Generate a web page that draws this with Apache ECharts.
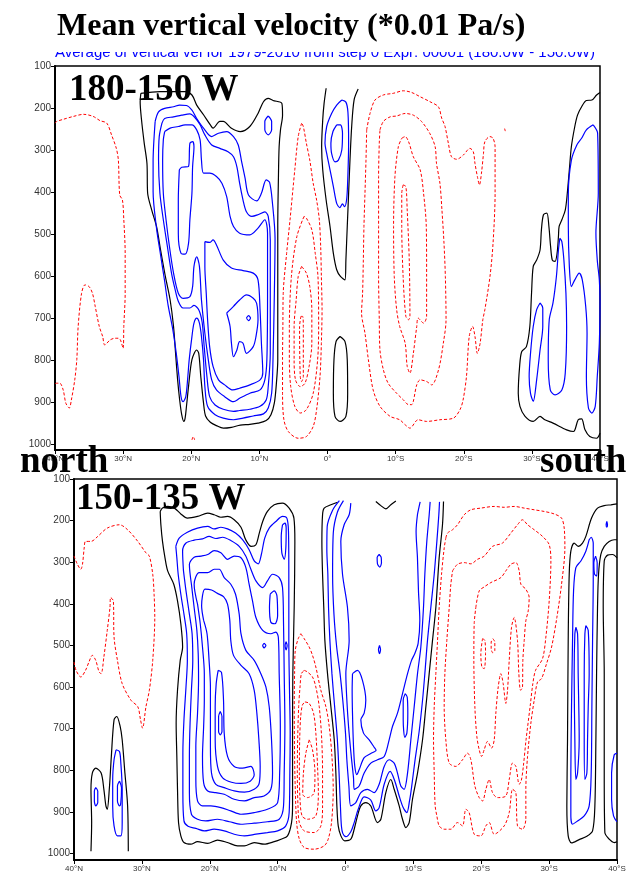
<!DOCTYPE html>
<html>
<head>
<meta charset="utf-8">
<script src="https://cdn.jsdelivr.net/npm/echarts@6/dist/echarts.min.js"></script>
<style>
html,body{margin:0;padding:0;background:#fff;}
#chart{width:635px;height:873px;}
</style>
</head>
<body>
<div id="chart"></div>
<script>
// ---------- axis ticks ----------
const latTicks = [40, 30, 20, 10, 0, -10, -20, -30, -40];
const presTicks = [100, 200, 300, 400, 500, 600, 700, 800, 900, 1000];

// ---------- text ----------
const titleText = 'Mean vertical velocity (*0.01 Pa/s)';
const subtitleText = 'Average of vertical vel for 1979-2010 from step 0 Expr: 00001 (180.0W - 150.0W)';
const panel1Label = '180-150 W';
const panel2Label = '150-135 W';

// ---------- PANEL 1 (180-150 W) contours: [latitude (N +, S -), pressure hPa] ----------
const p1_red_n40 = [[40,236],[39.75,232],[38.8,227],[37.3,220],[35.8,215],[34.4,220],[33.4,230],[32.4,236],[31.7,264],[31.0,296],[30.7,324],[30.5,407],[30.1,419],[29.9,466],[29.7,546],[29.7,641],[29.9,720],[30.0,772],[30.4,752],[30.7,748],[31.2,748],[31.9,752],[32.7,764],[33.0,744],[33.5,720],[34.1,672],[34.5,641],[35.0,625],[35.6,621],[36.1,641],[36.6,720],[36.8,799],[37.1,847],[37.6,895],[37.9,914],[38.4,903],[38.8,871],[39.3,855],[39.8,855],[40,857]];
const p1_red_tick = [[19.9,990],[19.7,982],[19.5,990]];
const p1_black_20n = [[27.4,165],[24.6,161],[20.9,161],[19.9,169],[19.2,193],[18.2,216],[17.2,240],[16.8,248],[15.8,232],[15.3,232],[14.1,248],[12.8,256],[11.4,244],[10.2,213],[9.4,185],[8.7,177],[8.0,182],[6.7,189],[6.6,217],[6.9,252],[7.1,292],[7.2,363],[7.3,482],[7.3,641],[7.3,799],[7.5,855],[7.8,902],[8.3,930],[9.0,944],[10.2,950],[11.4,953],[12.8,955],[14.1,960],[15.3,962],[16.3,956],[17.2,948],[17.9,933],[18.2,902],[18.6,839],[18.9,784],[19.2,776],[19.9,799],[20.4,863],[20.7,910],[20.9,938],[21.1,946],[21.4,930],[21.7,895],[22.0,847],[22.3,784],[22.6,720],[23.1,657],[23.8,601],[24.5,538],[25.1,482],[25.8,443],[26.4,403],[26.5,332],[26.9,284],[27.3,228],[27.5,185]];
const p1_blue_20n_1 = [[25.3,232],[25.6,328],[25.6,399],[25.1,486],[24.5,550],[23.9,613],[23.4,669],[22.7,728],[22.2,784],[21.8,839],[21.5,887],[21.2,899],[20.8,887],[20.5,839],[20.3,799],[19.9,744],[19.6,712],[19.2,700],[18.8,712],[18.5,744],[18.2,799],[18.0,863],[17.6,910],[16.5,930],[15.3,938],[13.8,942],[12.4,938],[10.9,933],[9.4,928],[8.7,914],[8.2,879],[8.0,799],[7.8,641],[7.7,510],[8.1,423],[8.5,377],[9.0,371],[9.7,403],[10.4,421],[11.6,407],[12.1,367],[12.6,328],[13.1,288],[13.8,268],[14.8,256],[16.0,260],[17.0,268],[18.2,248],[19.2,225],[19.9,205],[20.7,194],[21.7,193],[22.6,197],[23.9,201],[24.8,209]];
const p1_blue_20n_2 = [[24.3,236],[23.9,225],[22.6,221],[21.4,217],[20.2,214],[19.5,222],[18.7,240],[18.0,264],[17.0,288],[15.8,296],[14.6,304],[13.8,316],[13.3,340],[12.9,379],[12.4,419],[11.9,447],[11.1,458],[10.2,454],[9.2,447],[8.7,458],[8.4,514],[8.4,641],[8.4,784],[8.7,863],[9.0,895],[9.9,910],[11.4,917],[12.9,920],[13.8,922],[15.3,917],[16.5,907],[17.3,887],[17.7,839],[18.1,768],[18.4,710],[18.9,680],[19.6,670],[20.2,676],[21.2,676],[21.9,660],[22.4,630],[22.9,593],[23.5,530],[24.1,466],[24.6,403],[24.8,324],[24.7,268]];
const p1_blue_20n_3 = [[23.9,256],[23.1,248],[21.9,244],[20.9,240],[19.9,240],[19.2,252],[18.7,276],[18.5,324],[18.2,355],[17.3,355],[16.3,363],[15.5,379],[14.8,411],[14.3,458],[13.8,482],[12.9,498],[11.4,502],[10.2,486],[9.2,466],[8.8,498],[8.8,641],[8.9,799],[9.2,847],[9.9,871],[11.4,879],[12.9,891],[13.8,899],[15.1,887],[16.3,871],[17.0,847],[17.5,799],[18.0,736],[18.5,657],[18.8,577],[19.2,554],[19.6,577],[19.8,625],[20.2,649],[21.2,653],[21.9,641],[22.6,593],[23.2,530],[23.7,466],[24.1,403],[24.2,324],[24.1,276]];
const p1_blue_20n_4 = [[18.0,518],[17.3,520],[16.8,514],[16.3,526],[15.3,562],[14.1,581],[12.4,587],[10.9,593],[10.2,609],[9.9,680],[9.7,760],[9.5,831],[9.9,847],[11.4,859],[12.9,867],[13.9,871],[15.1,859],[16.0,847],[16.8,815],[17.3,768],[17.6,704],[17.8,641],[18.0,577]];
const p1_blue_20n_5 = [[14.8,688],[13.8,672],[12.9,657],[11.9,645],[10.9,653],[10.4,665],[10.2,704],[10.5,744],[10.9,768],[11.9,784],[12.4,760],[12.9,756],[13.3,776],[13.8,792],[14.1,760],[14.3,720]];
const p1_blue_20n_dot = [[11.9,700],[11.6,706],[11.3,700],[11.6,694]];
const p1_blue_20n_upper = [[21.75,347],[21.4,341],[20.4,339],[20.2,284],[19.8,280],[19.6,292],[19.8,339],[19.9,403],[20.2,466],[20.4,522],[20.9,548],[21.5,546],[21.9,498],[21.9,419]];
const p1_blue_9n_small = [[8.7,219],[8.2,232],[8.2,252],[8.7,264],[9.2,252],[9.2,232]];
const p1_red_5n_1 = [[3.8,236],[4.3,268],[4.8,347],[5.5,466],[6.0,546],[6.5,641],[6.55,720],[6.6,799],[6.6,879],[6.4,942],[5.75,970],[4.3,986],[3.1,982],[2.1,958],[1.6,918],[1.1,839],[0.9,760],[0.8,680],[0.9,601],[1.0,530],[1.2,466],[1.6,419],[2.1,379],[2.6,324],[3.1,284],[3.55,244]];
const p1_red_5n_2 = [[3.45,458],[4.5,506],[5.3,601],[5.6,720],[5.6,799],[5.4,863],[4.8,910],[4.0,926],[3.1,918],[2.1,879],[1.45,799],[1.3,720],[1.4,601],[1.8,546],[2.3,490],[3.1,462]];
const p1_red_5n_3 = [[3.8,577],[4.3,601],[4.6,657],[4.9,720],[4.9,799],[4.7,847],[4.0,863],[3.3,855],[2.7,815],[2.3,760],[2.3,680],[2.6,625],[3.1,593]];
const p1_red_5n_4 = [[3.9,696],[3.65,696],[3.55,720],[3.55,839],[3.8,851],[4.0,839],[4.1,720]];
const p1_black_eq_top = [[0.2,153],[0.5,189],[0.7,228],[0.86,292],[0.7,347],[0.2,419],[-0.37,482],[-0.86,546],[-1.35,585],[-1.9,601],[-2.57,609],[-2.7,562],[-2.9,482],[-3.1,403],[-3.3,324],[-3.55,244],[-3.9,181],[-4.5,155]];
const p1_blue_eq_1 = [[-2.1,181],[-2.7,186],[-3.0,210],[-3.1,284],[-2.95,380],[-2.8,419],[-2.5,435],[-2.2,428],[-1.8,437],[-1.35,427],[-0.86,387],[-0.37,347],[0.12,308],[0.37,284],[0.12,244],[-0.6,213],[-1.35,193]];
const p1_blue_eq_2 = [[-1.35,240],[-1.9,240],[-2.2,260],[-2.1,300],[-1.6,324],[-1.1,328],[-0.6,308],[-0.5,284],[-0.8,256]];
const p1_black_eq_low = [[-1.84,744],[-2.57,756],[-2.9,799],[-2.96,879],[-2.7,934],[-1.84,946],[-1.1,934],[-0.86,879],[-0.95,799],[-1.25,756]];
const p1_red_10s_1 = [[-5.75,252],[-6.24,213],[-6.97,181],[-8.19,169],[-9.66,165],[-11.13,159],[-12.35,163],[-13.58,173],[-15.04,185],[-16.27,197],[-16.76,224],[-17.25,244],[-17.74,284],[-18.2,316],[-18.96,322],[-19.94,312],[-20.91,296],[-21.4,304],[-21.65,332],[-22.0,363],[-22.3,383],[-22.6,355],[-22.9,308],[-23.1,280],[-23.85,268],[-24.3,272],[-24.6,292],[-24.6,403],[-24.3,522],[-23.85,601],[-23.1,680],[-22.8,704],[-22.4,760],[-22.0,784],[-21.65,744],[-21.3,720],[-20.8,744],[-20.4,839],[-19.9,895],[-19.45,918],[-18.5,938],[-16.5,942],[-14.55,946],[-13.3,942],[-12.1,962],[-11.4,954],[-10.6,942],[-9.2,934],[-7.7,910],[-6.7,871],[-6.0,799],[-5.5,736],[-5.0,688],[-5.15,641],[-5.26,562],[-5.35,482],[-5.5,403],[-5.65,324]];
const p1_red_10s_2 = [[-7.7,252],[-8.2,232],[-9.2,221],[-10.15,219],[-11.4,213],[-12.6,217],[-13.8,232],[-15.0,260],[-15.8,292],[-16.0,332],[-16.5,379],[-16.8,443],[-17.1,522],[-17.3,601],[-17.4,704],[-17.0,760],[-16.3,823],[-15.3,859],[-14.55,851],[-13.6,847],[-13.1,859],[-12.35,906],[-11.9,906],[-11.1,894],[-10.15,879],[-8.9,855],[-8.2,823],[-7.7,776],[-7.6,704],[-7.5,601],[-7.5,482],[-7.5,363],[-7.6,284]];
const p1_red_10s_3 = [[-10.9,272],[-11.4,268],[-11.9,280],[-12.6,316],[-13.6,347],[-14.1,403],[-14.5,482],[-14.55,601],[-14.55,696],[-14.1,712],[-13.3,700],[-13.1,720],[-12.6,784],[-12.1,831],[-11.7,815],[-11.4,760],[-10.6,720],[-10.15,680],[-9.8,601],[-9.7,482],[-9.9,363],[-10.4,292]];
const p1_red_10s_4 = [[-11.1,383],[-11.5,387],[-11.7,443],[-12.0,562],[-12.1,696],[-11.9,704],[-11.5,696],[-11.1,601],[-10.9,482],[-10.9,403]];
const p1_red_26s_dot = [[-26.0,249],[-26.1,255]];
const p1_black_35s = [[-40,163],[-39.5,169],[-38.8,181],[-38.0,182],[-37.3,197],[-36.7,217],[-36.3,244],[-35.8,292],[-35.5,347],[-35.2,403],[-34.9,443],[-34.4,466],[-34.0,482],[-33.9,506],[-33.7,546],[-33.4,565],[-33.0,562],[-32.75,530],[-32.5,482],[-32.2,450],[-31.7,454],[-31.4,490],[-31.2,538],[-30.7,562],[-30.2,577],[-29.95,641],[-29.7,720],[-29.2,768],[-28.5,780],[-28.2,815],[-28.0,879],[-28.25,910],[-29.0,934],[-30.2,946],[-31.2,934],[-31.9,942],[-33.1,950],[-35.1,966],[-36.1,970],[-36.8,942],[-37.3,940],[-37.8,966],[-38.5,982],[-39.5,986],[-40,974]];
const p1_blue_35s_1 = [[-39.0,240],[-39.65,260],[-39.75,403],[-39.4,498],[-39.6,562],[-39.9,609],[-40,657],[-39.9,760],[-39.6,839],[-39.3,910],[-38.8,926],[-38.3,914],[-38.0,839],[-38.1,736],[-37.9,672],[-37.4,609],[-36.95,593],[-36.3,609],[-35.8,625],[-35.5,577],[-35.35,482],[-35.35,403],[-35.8,324],[-36.6,288],[-37.3,272],[-38.0,252]];
const p1_blue_35s_2 = [[-34.1,510],[-34.4,518],[-34.7,562],[-35.0,641],[-35.1,720],[-34.9,831],[-34.4,871],[-33.4,883],[-32.7,871],[-32.4,799],[-32.55,704],[-33.1,664],[-33.6,601],[-33.9,538]];
const p1_blue_31s = [[-31.2,664],[-31.6,676],[-31.6,720],[-31.2,776],[-30.7,847],[-30.2,898],[-29.8,879],[-29.6,839],[-29.8,784],[-30.2,720],[-30.7,680]];

// ---------- PANEL 2 (150-135 W) contours ----------
const p2_red_n40 = [[40,285],[39.5,305],[39.0,317],[38.75,305],[38.5,266],[38.3,250],[37.5,250],[36.5,238],[35.1,218],[33.3,210],[32.1,222],[30.6,250],[29.4,277.5],[28.9,285.5],[28.4,329],[28.2,377],[28.1,433],[28.4,536],[28.9,608],[29.4,647.5],[29.9,699],[30.2,679],[30.6,647.5],[31.6,632],[32.9,592],[33.6,536],[34.1,480],[34.2,393],[34.6,385],[34.7,409],[35.1,464],[35.6,528],[36.0,568],[36.3,564],[36.8,536],[37.3,524],[37.8,540],[38.3,560],[39.0,576],[39.7,560],[40,540]];
const p2_black_35n = [[37.5,995],[37.4,926],[37.5,846],[37.3,807],[36.8,795],[36.0,807],[35.6,846],[35.3,886],[35.1,894],[34.8,846],[34.5,767],[34.1,679],[33.7,671],[33.2,695],[32.9,727],[32.5,807],[32.1,886],[32.0,995]];
const p2_blue_37n = [[36.8,842],[36.5,850],[36.5,878],[36.8,886],[37.0,874],[37.0,850]];
const p2_blue_33n_1 = [[33.8,751],[33.3,755],[33.1,783],[32.9,846],[32.9,926],[33.1,958],[33.6,958],[34.1,934],[34.3,886],[34.3,822.5],[34.1,775]];
const p2_blue_33n_2 = [[33.3,826],[33.0,842],[33.1,878],[33.3,886],[33.6,874],[33.6,838]];
const p2_black_18n = [[27.3,178],[26.96,170],[26.2,166],[25.2,170],[24.26,184],[23.3,194],[21.8,190],[20.3,182],[19.35,186],[18.36,192],[17.38,190],[16.4,198],[15.4,216],[14.7,246],[13.9,262],[13.2,258],[12.7,230],[12.2,202],[11.5,178],[10.5,162],[9.3,158],[8.3,170],[7.6,194],[7.46,250],[7.56,409],[7.76,568],[7.8,727],[7.8,886],[7.95,926],[8.54,958],[9.5,966],[10.5,972],[12.0,978],[13.45,974],[14.9,982],[15.9,982],[17.4,974],[18.86,968],[20.3,976],[21.8,972],[22.8,978],[23.8,974],[24.26,958],[24.6,926],[24.75,846],[24.85,767],[24.95,687],[24.75,608],[24.35,536],[24.0,504],[24.26,448],[24.75,393],[25.3,353],[26.2,321],[26.6,289],[26.96,250],[27.2,210]];
const p2_blue_18n_1 = [[25.0,262],[24.5,242],[23.3,228],[21.8,218],[20.3,214],[19.35,220],[18.36,216],[17.38,220],[16.2,230],[15.17,246],[14.2,270],[13.45,297],[12.86,304],[12.4,281.5],[11.9,242],[11.24,218],[10.26,202],[9.28,190],[8.64,194],[8.4,226],[8.35,329],[8.35,488],[8.25,608],[8.15,711],[8.2,807],[8.3,902],[8.8,934],[10.0,946],[11.5,950],[13.2,954],[14.9,958],[16.4,954],[17.87,946],[19.35,942],[20.8,946],[22.05,940],[23.2,935],[23.8,922],[23.96,854],[23.96,759],[23.8,679],[23.5,600],[23.3,536],[23.4,472],[23.8,425],[24.26,377],[24.65,329],[24.85,289]];
const p2_blue_18n_2 = [[23.87,321],[24.0,273.5],[23.5,254],[22.3,247],[21.07,244],[20.1,238],[19.1,243],[18.1,240],[16.9,248],[15.66,262],[14.68,285.5],[13.94,317],[13.2,345],[12.2,361],[11.5,345],[10.75,329],[9.77,337],[9.28,361],[9.13,448],[9.03,568],[8.93,695],[9.03,807],[9.13,886],[9.77,918],[11.5,924],[13.45,927.5],[15.4,930],[17.1,924],[18.86,918],[20.6,922],[21.8,918],[22.7,906],[23.0,854],[23.0,767],[22.9,687],[22.7,608],[22.5,536],[22.6,472],[23.0,425],[23.5,369]];
const p2_blue_18n_3 = [[22.7,353],[23.0,305],[22.3,288],[21.3,285.5],[20.3,281.5],[19.35,272],[18.36,277.5],[17.38,293],[16.4,285.5],[15.4,289.4],[14.68,313],[14.2,353],[13.7,393],[13.2,433],[12.2,464],[11.0,472],[10.26,468],[9.9,480],[9.77,568],[9.6,695],[9.7,807],[10.0,878],[11.5,894],[13.45,902],[15.4,906],[16.9,898],[18.36,890],[19.84,886],[21.07,886],[21.8,874],[22.05,822.5],[22.05,743],[21.8,663],[21.65,584],[21.7,520],[21.9,464],[22.3,409]];
const p2_blue_18n_4 = [[21.8,401],[22.3,353],[21.56,325],[20.3,325],[19.35,317],[18.6,317],[17.87,337],[16.9,353],[16.2,377],[15.66,425],[15.4,472],[14.68,512],[13.45,536],[12.47,568],[11.73,600],[11.24,647.5],[10.9,727],[10.75,807],[11.0,846],[12.0,862],[13.45,866],[14.9,874],[16.4,870],[17.87,858],[19.1,854],[20.3,850],[20.9,830.5],[21.07,767],[20.9,695],[20.8,632],[20.8,568],[21.07,504],[21.4,448]];
const p2_blue_18n_5 = [[20.9,440],[21.2,405],[20.7,365],[19.74,367],[18.86,375],[17.97,383],[17.38,401],[17.04,441],[16.9,488],[16.5,524],[15.4,548],[14.2,568],[13.45,608],[13.06,663],[12.76,727],[12.57,791],[12.7,830.5],[13.45,846],[14.9,853],[16.4,850],[17.87,842],[19.1,834],[19.74,807],[19.9,743],[19.9,663],[19.9,600],[20.1,536],[20.4,472]];
const p2_blue_18n_6 = [[18.76,560],[18.27,565],[17.97,632],[17.87,711],[17.38,767],[16.4,791],[15.17,795],[13.94,791],[13.45,811],[14.04,826.5],[15.4,832],[16.8,829],[18.1,818.5],[18.86,791],[19.2,727],[19.2,647.5],[19.05,592]];
const p2_blue_18n_core = [[18.45,659],[18.2,671],[18.2,707],[18.45,715],[18.7,707],[18.7,671]];
const p2_blue_9n_a = [[9.28,210],[8.93,206],[8.74,218],[8.79,266],[9.03,293],[9.38,277.5],[9.47,238]];
const p2_blue_11n_b = [[11.1,377],[10.5,369],[10.1,381],[10.0,429],[10.4,448],[11.0,444.5],[11.2,409]];
const p2_blue_12n_dot = [[12.0,495],[11.73,500],[12.0,506],[12.2,500]];
const p2_blue_9n_dot = [[8.75,491],[8.6,500],[8.75,511],[8.9,500]];
const p2_red_5n_1 = [[6.58,472],[6.08,484],[5.35,504],[4.86,524],[4.37,552],[3.63,608],[2.89,647.5],[2.4,695],[2.0,767],[1.81,846],[2.06,926],[2.55,966],[3.14,982],[4.61,990],[6.08,986],[6.8,966],[7.2,926],[7.4,846],[7.5,767],[7.55,647.5],[7.5,568],[7.4,512],[6.97,484]];
const p2_red_5n_2 = [[6.08,560],[5.6,564],[4.86,576],[4.37,600],[3.87,647.5],[3.5,727],[3.38,807],[3.38,886],[3.63,934],[4.61,950],[6.08,946],[6.8,926],[7.0,886],[7.1,807],[7.05,727],[6.9,647.5],[6.7,600],[6.5,568]];
const p2_red_5n_3 = [[5.98,636],[5.35,639.5],[4.71,663],[4.37,711],[4.12,791],[4.0,854],[4.37,910],[5.6,918],[6.4,910],[6.7,870],[6.8,807],[6.75,727],[6.6,671],[6.35,643.5]];
const p2_red_5n_4 = [[5.35,727],[4.86,751],[4.5,807],[4.61,854],[5.6,866],[6.3,858],[6.2,807],[5.84,759]];
const p2_black_eq = [[1.17,156],[2.15,162],[3.14,170],[3.38,186],[3.48,250],[3.38,329],[3.2,409],[3.04,488],[2.65,568],[2.15,647.5],[1.66,727],[1.42,807],[1.27,886],[1.07,934],[0.68,958],[0.1,970],[-0.78,966],[-1.28,942],[-1.77,910],[-2.26,886],[-2.99,878],[-3.73,886],[-4.71,926],[-5.21,918],[-5.94,854],[-6.68,822.5],[-7.17,846],[-7.91,886],[-8.4,918],[-8.89,938],[-9.38,926],[-9.87,870],[-10.61,807],[-11.35,727],[-11.84,647.5],[-12.33,568],[-12.82,488],[-13.31,409],[-13.8,289.4],[-14.29,210],[-14.44,154]];
const p2_black_5s_top = [[-4.47,154],[-5.21,164],[-5.94,172],[-6.68,162],[-7.42,153]];
const p2_blue_eq_1 = [[0.9,152],[1.9,175],[2.7,215],[2.75,270],[2.6,329],[2.5,409],[2.3,488],[2.0,568],[1.6,647.5],[1.2,727],[0.95,807],[0.75,886],[0.6,935],[0.4,952],[-0.05,960],[-0.78,948],[-1.28,926],[-1.87,894],[-2.75,864],[-3.73,872],[-4.47,898],[-4.96,890],[-5.7,834],[-6.58,803],[-7.27,826.5],[-7.91,862],[-8.5,890],[-9.04,902],[-9.43,874],[-9.73,842],[-10.22,779],[-10.85,707],[-11.35,632],[-11.69,568],[-12.08,488],[-12.57,409],[-13.07,329],[-13.46,250],[-13.75,186],[-13.85,155]];
const p2_blue_eq_2 = [[0.3,152],[1.2,180],[1.8,230],[1.9,329],[1.7,425],[1.3,504],[0.8,568],[0.4,632],[0.0,711],[-0.2,775],[-0.5,838],[-0.78,886],[-1.52,878],[-2.26,854],[-3.24,846],[-4.22,854],[-4.96,834],[-5.7,791],[-6.43,775],[-7.17,783],[-7.66,807],[-8.15,838],[-8.64,846],[-9.14,807],[-9.63,727],[-10.12,647.5],[-10.61,568],[-11.1,504],[-11.49,409],[-11.69,329],[-11.98,250],[-12.33,186],[-12.47,155]];
const p2_blue_eq_3 = [[-0.78,158],[-0.54,186],[0.2,210],[0.69,250],[0.44,329],[-0.29,409],[-0.54,488],[-0.05,568],[-0.2,632],[-0.45,695],[-0.85,767],[-1.18,818.5],[-1.28,846],[-2.01,838],[-2.75,807],[-3.73,783],[-4.71,775],[-5.7,767],[-6.43,727],[-6.92,695],[-7.66,663],[-8.4,616],[-9.14,568],[-9.73,536],[-10.2,520],[-10.7,495],[-10.95,440],[-10.75,369],[-10.6,289],[-10.4,226],[-10.6,186],[-10.85,166],[-11.0,155]];
const p2_blue_eq_4 = [[-1.03,568],[-1.77,560],[-2.5,584],[-2.99,632],[-2.75,663],[-2.26,679],[-2.65,711],[-3.49,727],[-4.22,745],[-4.5,752],[-3.73,760],[-2.75,770],[-2.01,799],[-1.67,811],[-1.37,791],[-1.18,743],[-1.03,663],[-0.98,608]];
const p2_blue_5s_a = [[-4.96,281.5],[-5.25,288],[-5.3,301],[-5.06,312],[-4.71,304],[-4.66,289]];
const p2_blue_5s_b = [[-5.01,500],[-5.16,510],[-5.01,520],[-4.86,510]];
const p2_blue_9s = [[-8.79,616],[-9.09,624],[-9.18,663],[-9.04,711],[-8.74,721],[-8.5,679],[-8.5,632]];
const p2_red_20s_1 = [[-14.78,242],[-15.03,230],[-15.77,222],[-16.5,210],[-17.49,186],[-18.47,174],[-19.94,170],[-21.91,166],[-23.38,168],[-24.85,166],[-26.33,170],[-27.8,174],[-29.27,178],[-30.75,184],[-31.83,194],[-32.22,218],[-32.32,266],[-31.83,353],[-31.14,433],[-30.36,504],[-29.62,544],[-28.88,580],[-28.29,588],[-27.8,632],[-27.31,687],[-26.82,767],[-26.57,846],[-26.57,918],[-26.08,942],[-25.34,934],[-25.1,854],[-24.61,846],[-24.12,902],[-23.38,934],[-21.91,954],[-21.17,926],[-20.68,934],[-19.94,958],[-18.96,954],[-18.22,902],[-17.73,894],[-17.24,934],[-16.5,926],[-15.52,942],[-14.54,942],[-13.8,934],[-13.46,910],[-13.21,886],[-13.07,807],[-12.97,727],[-13.07,647.5],[-13.31,568],[-13.56,488],[-13.8,409],[-14.15,329],[-14.54,266]];
const p2_red_20s_2 = [[-15.77,321],[-16.5,305],[-17.49,301],[-18.47,304],[-19.45,293],[-20.43,285.5],[-21.66,262],[-23.13,254],[-24.36,230],[-25.34,210],[-26.08,198],[-26.82,210],[-27.8,222],[-29.03,238],[-30.01,258],[-30.26,297],[-30.01,393],[-29.52,480],[-29.03,532],[-28.0,560],[-27.6,592],[-27.2,647],[-26.6,727],[-26.2,791],[-25.9,825],[-25.59,834],[-25.1,791],[-24.61,783],[-24.12,822.5],[-23.62,862],[-22.4,866],[-21.66,854],[-21.17,822.5],[-20.68,846],[-20.19,874],[-19.7,866],[-19.06,838],[-18.47,775],[-17.98,759],[-17.24,775],[-16.26,791],[-15.28,783],[-14.78,727],[-14.54,647.5],[-14.64,568],[-14.93,488],[-15.28,409],[-15.52,353]];
const p2_red_20s_3 = [[-19.2,409],[-19.7,369],[-20.43,359.5],[-21.42,349],[-22.89,337],[-23.62,321],[-24.36,305],[-25.1,301],[-25.59,321],[-25.84,353],[-26.57,365],[-27.06,385],[-26.92,417],[-26.57,441],[-26.33,488],[-26.13,536],[-26.08,600],[-25.79,608],[-25.54,568],[-25.34,488],[-24.85,433],[-24.46,456.5],[-24.12,536],[-23.87,608],[-23.62,639.5],[-23.23,592],[-22.89,568],[-22.5,600],[-22.15,663],[-21.91,727],[-21.52,747],[-20.92,731],[-20.43,751],[-20.04,767],[-19.7,751],[-19.35,719],[-19.06,647.5],[-18.91,536],[-18.96,448]];
const p2_red_20s_a = [[-20.19,484],[-20.53,488],[-20.63,520],[-20.43,556],[-20.09,552],[-19.94,520]];
const p2_red_22s_b = [[-21.71,484],[-22.0,492],[-22.0,512],[-21.71,518],[-21.46,508],[-21.46,492]];
const p2_black_35s_1 = [[-40,160],[-39.1,162],[-38.12,164],[-37.13,170],[-36.25,194],[-35.41,238],[-34.92,254],[-34.28,262],[-33.69,254],[-33.2,273.5],[-32.96,329],[-32.81,488],[-32.71,727],[-32.61,886],[-32.81,958],[-33.3,975],[-34.43,967],[-35.56,959],[-36.4,946],[-36.74,886],[-36.89,727],[-36.99,568],[-37.13,409],[-37.28,329],[-37.62,281.5],[-38.12,262],[-38.85,250],[-39.59,246],[-40,246]];
const p2_black_35s_2 = [[-40,289.4],[-39.34,281.5],[-38.61,283],[-38.12,297],[-37.97,409],[-38.12,568],[-38.12,807],[-38.21,950],[-38.85,966],[-39.59,974],[-40,972]];
const p2_blue_35s_1 = [[-35.9,246],[-36.2,240],[-36.5,255],[-36.5,340],[-36.4,488],[-36.3,647.5],[-36.2,807],[-35.9,886],[-35.17,910],[-34.19,922],[-33.45,930],[-33.2,910],[-33.2,807],[-33.3,647.5],[-33.45,488],[-33.6,369],[-33.94,313],[-34.68,297],[-35.41,273.5]];
const p2_blue_34s = [[-33.94,456.5],[-34.19,472],[-34.28,568],[-34.43,727],[-34.19,807],[-33.94,822.5],[-33.79,727],[-33.69,568],[-33.79,472]];
const p2_blue_36s = [[-35.41,452.5],[-35.76,464],[-35.9,568],[-35.76,647.5],[-35.66,727],[-35.56,807],[-35.27,822.5],[-35.17,727],[-35.17,568],[-35.27,472]];
const p2_blue_37s_small = [[-36.84,285.5],[-37.08,301],[-37.03,333],[-36.69,329],[-36.59,301]];
const p2_blue_38s_dot = [[-38.5,202],[-38.6,210],[-38.5,216],[-38.4,210]];
const p2_blue_40s_edge = [[-40,759],[-39.59,763],[-39.2,807],[-39.2,870],[-39.49,910],[-39.98,924]];

// ---------- groups: [data, closed] ----------
const panel1Black = [[p1_black_20n,true],[p1_black_eq_top,false],[p1_black_eq_low,true],[p1_black_35s,false]];
const panel1Blue = [[p1_blue_20n_1,true],[p1_blue_20n_2,true],[p1_blue_20n_3,true],[p1_blue_20n_4,true],[p1_blue_20n_5,true],[p1_blue_20n_dot,true],[p1_blue_20n_upper,true],[p1_blue_9n_small,true],[p1_blue_eq_1,true],[p1_blue_eq_2,true],[p1_blue_35s_1,true],[p1_blue_35s_2,true],[p1_blue_31s,true]];
const panel1Red = [[p1_red_n40,false],[p1_red_tick,false],[p1_red_5n_1,true],[p1_red_5n_2,true],[p1_red_5n_3,true],[p1_red_5n_4,true],[p1_red_10s_1,true],[p1_red_10s_2,true],[p1_red_10s_3,true],[p1_red_10s_4,true],[p1_red_26s_dot,false]];
const panel2Black = [[p2_black_35n,false],[p2_black_18n,true],[p2_black_eq,false],[p2_black_5s_top,false],[p2_black_35s_1,false],[p2_black_35s_2,false]];
const panel2Blue = [[p2_blue_37n,true],[p2_blue_33n_1,true],[p2_blue_33n_2,true],[p2_blue_18n_1,true],[p2_blue_18n_2,true],[p2_blue_18n_3,true],[p2_blue_18n_4,true],[p2_blue_18n_5,true],[p2_blue_18n_6,true],[p2_blue_18n_core,true],[p2_blue_9n_a,true],[p2_blue_11n_b,true],[p2_blue_12n_dot,true],[p2_blue_9n_dot,true],[p2_blue_eq_1,false],[p2_blue_eq_2,false],[p2_blue_eq_3,false],[p2_blue_eq_4,true],[p2_blue_5s_a,true],[p2_blue_5s_b,true],[p2_blue_9s,true],[p2_blue_35s_1,true],[p2_blue_34s,true],[p2_blue_36s,true],[p2_blue_37s_small,true],[p2_blue_38s_dot,true],[p2_blue_40s_edge,false]];
const panel2Red = [[p2_red_n40,false],[p2_red_5n_1,true],[p2_red_5n_2,true],[p2_red_5n_3,true],[p2_red_5n_4,true],[p2_red_20s_1,true],[p2_red_20s_2,true],[p2_red_20s_3,true],[p2_red_20s_a,true],[p2_red_22s_b,true]];

// ---------- build chart ----------
const styles = {
  black: {color: '#000000', width: 1.2, type: 'solid'},
  blue: {color: '#0000ff', width: 1.2, type: 'solid'},
  red: {color: '#ff0000', width: 1, type: [3, 2]}
};
const series = [];
function addGroup(group, style, gridIdx) {
  group.forEach(function (item) {
    const data = item[1] ? item[0].concat([item[0][0]]) : item[0];
    series.push({
      type: 'line', xAxisIndex: gridIdx, yAxisIndex: gridIdx,
      data: data, showSymbol: false, symbol: 'none', smooth: 0.3,
      lineStyle: style, silent: true, animation: false, clip: true, z: 3
    });
  });
}
addGroup(panel1Red, styles.red, 0);
addGroup(panel1Black, styles.black, 0);
addGroup(panel1Blue, styles.blue, 0);
addGroup(panel2Red, styles.red, 1);
addGroup(panel2Black, styles.black, 1);
addGroup(panel2Blue, styles.blue, 1);

function latFmt(v) {
  if (v > 0) return v + '°N';
  if (v < 0) return (-v) + '°S';
  return '0°';
}
function presFmt(v) { return String(Math.round(v)); }
function makeX(gi) {
  return {
    type: 'value', gridIndex: gi, min: -40, max: 40, interval: 10, inverse: true,
    axisLine: {show: true, onZero: false, lineStyle: {color: '#000', width: 2}},
    axisTick: {show: true, inside: false, length: 4, lineStyle: {color: '#000', width: 1}, customValues: latTicks},
    axisLabel: {show: true, customValues: latTicks, formatter: latFmt, fontSize: 8, color: '#333', margin: 5, fontFamily: 'Liberation Sans'},
    splitLine: {show: false}
  };
}
function makeY(gi, maxP) {
  return {
    type: 'value', gridIndex: gi, min: 100, max: maxP, interval: 100, inverse: true,
    axisLine: {show: true, onZero: false, lineStyle: {color: '#000', width: 2}},
    axisTick: {show: true, inside: false, length: 4, lineStyle: {color: '#000', width: 1}, customValues: presTicks},
    axisLabel: {show: true, customValues: presTicks, formatter: presFmt, fontSize: 10, color: '#333', margin: 4, fontFamily: 'Liberation Sans'},
    splitLine: {show: false}
  };
}

const chart = echarts.init(document.getElementById('chart'), null, {renderer: 'canvas'});
chart.setOption({
  backgroundColor: '#ffffff',
  animation: false,
  grid: [
    {left: 55, top: 66, width: 545, height: 384, show: true, borderColor: '#000', borderWidth: 1.5, backgroundColor: 'transparent'},
    {left: 74, top: 479, width: 543, height: 384, show: true, borderColor: '#000', borderWidth: 1.5, backgroundColor: 'transparent'}
  ],
  xAxis: [makeX(0), makeX(1)],
  yAxis: [makeY(0, 1014), makeY(1, 1016)],
  series: series,
  graphic: [
    {type: 'text', left: 55, top: 45, z: 10, style: {text: subtitleText, fill: '#0000ff', font: '15px "Liberation Sans", Arial, sans-serif'}},
    {type: 'rect', shape: {x: 40, y: 0, width: 580, height: 52}, z: 11, style: {fill: '#ffffff'}},
    {type: 'text', x: 57, y: 27, z: 12, style: {text: titleText, fill: '#000', font: 'bold 32px "Liberation Serif", "Times New Roman", serif', verticalAlign: 'middle', align: 'left'}},
    {type: 'text', x: 69, y: 90, z: 12, style: {text: panel1Label, fill: '#000', font: 'bold 37px "Liberation Serif", "Times New Roman", serif', verticalAlign: 'middle', align: 'left'}},
    {type: 'text', x: 76, y: 499, z: 12, style: {text: panel2Label, fill: '#000', font: 'bold 37px "Liberation Serif", "Times New Roman", serif', verticalAlign: 'middle', align: 'left'}},
    {type: 'text', x: 20, y: 462, z: 12, style: {text: 'north', fill: '#000', font: 'bold 37px "Liberation Serif", "Times New Roman", serif', verticalAlign: 'middle', align: 'left'}},
    {type: 'text', x: 540, y: 462, z: 12, style: {text: 'south', fill: '#000', font: 'bold 37px "Liberation Serif", "Times New Roman", serif', verticalAlign: 'middle', align: 'left'}}
  ]
});
</script>
</body>
</html>
